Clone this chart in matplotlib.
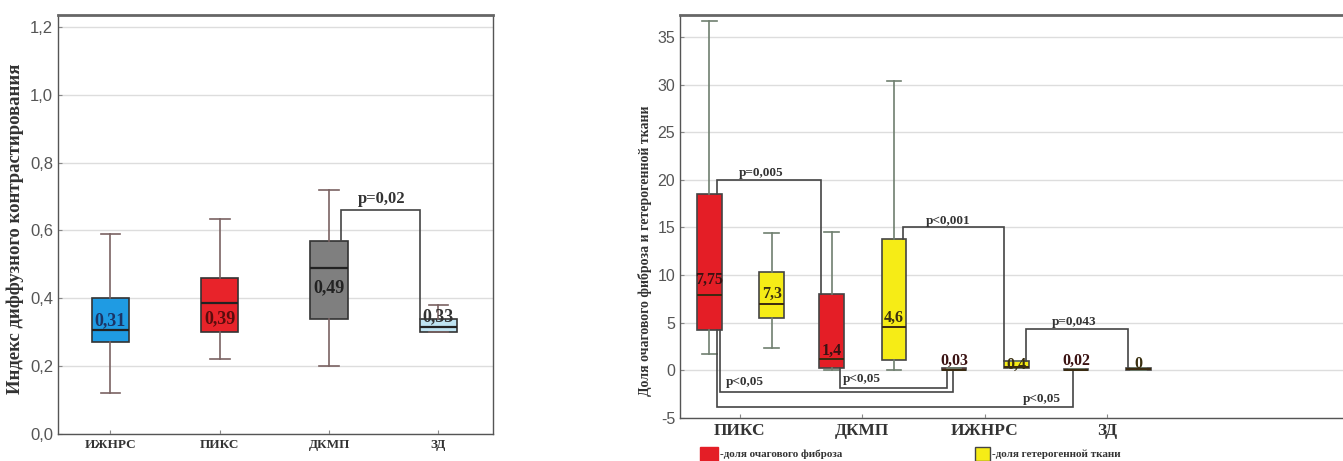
import matplotlib
matplotlib.use('Agg')
import matplotlib.pyplot as plt
from matplotlib.patches import Rectangle

# ---- данные: левая панель (индекс диффузного контрастирования)
cats_left = ['ИЖНРС', 'ПИКС', 'ДКМП', 'ЗД']
left_whislo = [0.12, 0.22, 0.20, 0.30]
left_q1 = [0.27, 0.30, 0.34, 0.30]
left_med = [0.305, 0.385, 0.49, 0.315]
left_q3 = [0.40, 0.46, 0.57, 0.34]
left_whishi = [0.59, 0.635, 0.72, 0.38]
left_labels = ['0,31', '0,39', '0,49', '0,33']
left_colors = ['#1f9be3', '#e8232a', '#7f7f7f', '#bfe4f2']
left_txtcol = ['#1b3566', '#5a0d0d', '#222222', '#333333']

# ---- данные: правая панель (доля фиброза / гетерогенной ткани)
cats_right = ['ПИКС', 'ДКМП', 'ИЖНРС', 'ЗД']
fib_whislo = [1.7, 0.0, 0.0, 0.0]
fib_q1 = [4.2, 0.3, 0.0, 0.0]
fib_med = [7.9, 1.2, 0.05, 0.0]
fib_q3 = [18.5, 8.0, 0.2, 0.1]
fib_whishi = [36.7, 14.5, 0.3, 0.1]
fib_labels = ['7,75', '1,4', '0,03', '0,02']

het_whislo = [2.4, 0.0, 0.2, 0.0]
het_q1 = [5.5, 1.1, 0.2, 0.0]
het_med = [7.0, 4.6, 0.4, 0.1]
het_q3 = [10.3, 13.8, 1.0, 0.3]
het_whishi = [14.4, 30.4, 1.0, 0.3]
het_labels = ['7,3', '4,6', '0,4', '0']

SERIF = ['Liberation Serif', 'DejaVu Serif']
SANS = ['Liberation Sans Narrow', 'Liberation Sans', 'DejaVu Sans']
spine_col = '#555555'


def make_stats(lo, q1, med, q3, hi):
    return [dict(whislo=a, q1=b, med=c, q3=d, whishi=e, fliers=[])
            for a, b, c, d, e in zip(lo, q1, med, q3, hi)]


def style_axes(ax):
    for s in ax.spines.values():
        s.set_color(spine_col)
        s.set_linewidth(1.0)
    ax.spines['top'].set_linewidth(2.0)
    ax.spines['top'].set_color('#666666')
    ax.yaxis.grid(True, color='#dddddd', linewidth=1.0)
    ax.set_axisbelow(True)
    ax.tick_params(direction='in', length=3, color='#888888')


def bracket(ax, x1, x2, y1, ylev, y2, color='#444444'):
    ax.plot([x1, x1, x2, x2], [y1, ylev, ylev, y2], color=color, lw=1.2,
            solid_joinstyle='miter')


fig = plt.figure(figsize=(13.43, 4.61), dpi=100)

# ================= левая панель
ax1 = fig.add_axes([0.0432, 0.0586, 0.3239, 0.909])
pos_l = list(range(len(cats_left)))
bp = ax1.bxp(make_stats(left_whislo, left_q1, left_med, left_q3, left_whishi),
             positions=pos_l, widths=0.34, patch_artist=True, showfliers=False,
             boxprops=dict(edgecolor='#333333', linewidth=1.2),
             medianprops=dict(color='#222222', linewidth=1.6),
             whiskerprops=dict(color='#7a6262', linewidth=1.2),
             capprops=dict(color='#7a6262', linewidth=1.2),
             capwidths=0.18)
for patch, c in zip(bp['boxes'], left_colors):
    patch.set_facecolor(c)
label_y_left = [0.335, 0.34, 0.43, 0.345]
for x, y, t, c in zip(pos_l, label_y_left, left_labels, left_txtcol):
    ax1.text(x, y, t, ha='center', va='center', fontsize=13,
             fontweight='bold', family=SERIF, color=c)
bracket(ax1, 2.11, 2.83, 0.57, 0.66, 0.34)
ax1.text(2.48, 0.668, 'p=0,02', ha='center', va='bottom', fontsize=12,
         fontweight='bold', family=SERIF, color='#333333')

ax1.set_xlim(-0.48, 3.5)
ax1.set_ylim(0, 1.235)
ax1.set_yticks([0.0, 0.2, 0.4, 0.6, 0.8, 1.0, 1.2])
ax1.set_yticklabels(['0,0', '0,2', '0,4', '0,6', '0,8', '1,0', '1,2'],
                    family=SANS, fontsize=12, color='#555555')
ax1.set_xticks(pos_l)
ax1.set_xticklabels(cats_left, family=SERIF, fontweight='bold', fontsize=9.5,
                    color='#333333')
ax1.set_ylabel('Индекс диффузного контрастирования', family=SERIF,
               fontweight='bold', fontsize=13.5, color='#333333')
ax1.yaxis.set_label_coords(-0.078, 0.49)
style_axes(ax1)

# ================= правая панель
ax2 = fig.add_axes([0.5063, 0.0933, 0.50, 0.874])
pos_r = list(range(len(cats_right)))
common = dict(widths=0.2, patch_artist=True, showfliers=False,
              boxprops=dict(edgecolor='#444444', linewidth=1.2),
              medianprops=dict(color='#3a2a10', linewidth=1.4),
              whiskerprops=dict(color='#6f7f6f', linewidth=1.2),
              capprops=dict(color='#6f7f6f', linewidth=1.2),
              capwidths=0.12)
pos_fib = [p - 0.25 for p in pos_r]
pos_het = [p + 0.26 for p in pos_r]
bf = ax2.bxp(make_stats(fib_whislo, fib_q1, fib_med, fib_q3, fib_whishi),
             positions=pos_fib, **common)
bh = ax2.bxp(make_stats(het_whislo, het_q1, het_med, het_q3, het_whishi),
             positions=pos_het, **common)
for patch in bf['boxes']:
    patch.set_facecolor('#e41e26')
for patch in bh['boxes']:
    patch.set_facecolor('#f6ec16')

fib_label_y = [9.5, 2.0, 1.0, 1.0]
het_label_y = [8.0, 5.5, 0.6, 0.7]
for x, y, t in zip(pos_fib, fib_label_y, fib_labels):
    ax2.text(x, y, t, ha='center', va='center', fontsize=11.5,
             fontweight='bold', family=SERIF, color='#3a1212')
for x, y, t in zip(pos_het, het_label_y, het_labels):
    ax2.text(x, y, t, ha='center', va='center', fontsize=11.5,
             fontweight='bold', family=SERIF, color='#3a3010')

# скобки значимости
bracket(ax2, -0.19, 0.66, 18.5, 20.0, 8.0)
bracket(ax2, 1.33, 2.16, 13.8, 15.0, 1.0)
bracket(ax2, 2.34, 3.17, 1.0, 4.3, 0.3)
bracket(ax2, 0.82, 1.69, 0.3, -1.8, 0.0)
bracket(ax2, -0.16, 1.74, 4.2, -2.3, 0.0)
bracket(ax2, -0.19, 2.72, 4.2, -3.8, 0.0)
ptxt = dict(fontsize=9.5, fontweight='bold', family=SERIF, color='#333333')
ax2.text(0.17, 20.1, 'p=0,005', ha='center', va='bottom', **ptxt)
ax2.text(1.70, 15.1, 'p<0,001', ha='center', va='bottom', **ptxt)
ax2.text(2.73, 4.4, 'p=0,043', ha='center', va='bottom', **ptxt)
ax2.text(0.04, -1.2, 'p<0,05', ha='center', va='center', **ptxt)
ax2.text(1.00, -0.9, 'p<0,05', ha='center', va='center', **ptxt)
ax2.text(2.47, -3.0, 'p<0,05', ha='center', va='center', **ptxt)

ax2.set_xlim(-0.49, 5.0)
ax2.set_ylim(-5, 37.3)
ax2.set_yticks(range(-5, 40, 5))
ax2.set_yticklabels([str(v) for v in range(-5, 40, 5)], family=SANS,
                    fontsize=11.5, color='#555555')
ax2.set_xticks(pos_r)
ax2.set_xticklabels(cats_right, family=SERIF, fontweight='bold', fontsize=12.5,
                    color='#333333')
ax2.set_ylabel('Доля очагового фиброза и гетерогенной ткани', family=SERIF,
               fontweight='bold', fontsize=10, color='#333333')
ax2.yaxis.set_label_coords(-0.042, 0.415)
style_axes(ax2)
ax2.spines['right'].set_visible(False)

# легенда внизу
fig.patches.append(Rectangle((700 / 1343, 0.0), 18 / 1343, 0.03,
                             transform=fig.transFigure, facecolor='#e41e26',
                             edgecolor='#e41e26'))
fig.patches.append(Rectangle((975 / 1343, 0.0), 15 / 1343, 0.03,
                             transform=fig.transFigure, facecolor='#f6ec16',
                             edgecolor='#444444', linewidth=1))
fig.text(720 / 1343, 0.015, '-доля очагового фиброза', family=SERIF,
         fontweight='bold', fontsize=8, color='#333333', va='center')
fig.text(992 / 1343, 0.015, '-доля гетерогенной ткани', family=SERIF,
         fontweight='bold', fontsize=8, color='#333333', va='center')

fig.savefig('out.png', dpi=100)
